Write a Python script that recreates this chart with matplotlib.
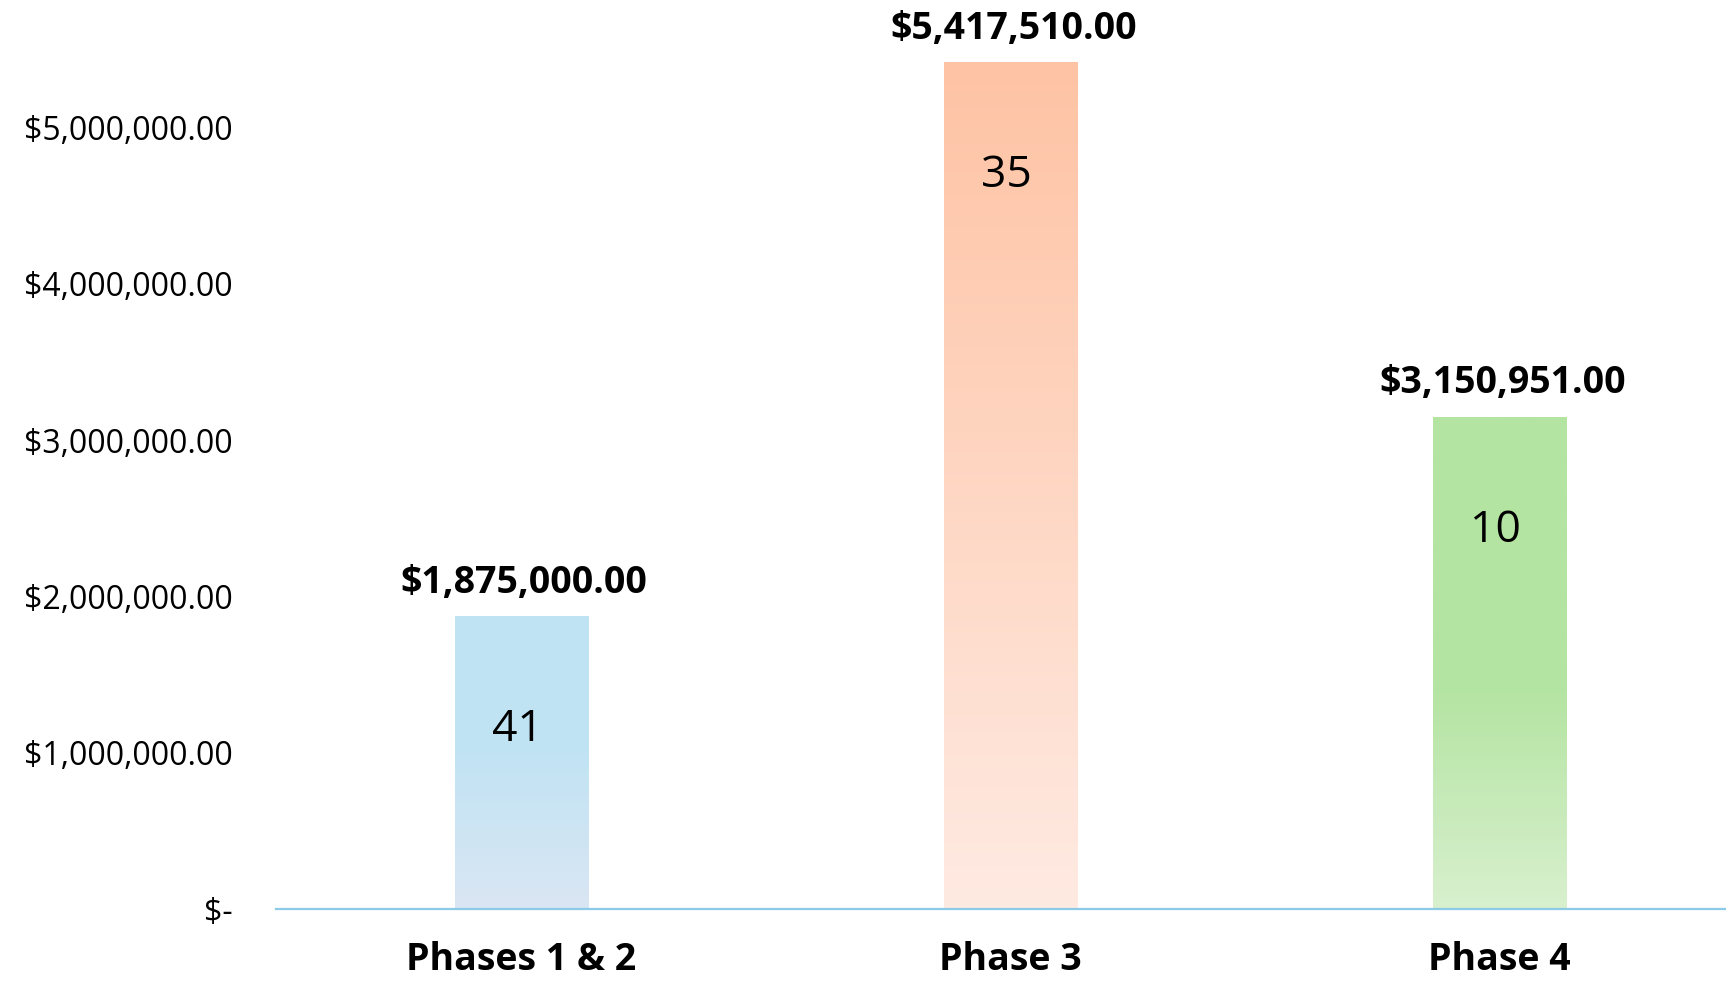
import matplotlib.pyplot as plt
import numpy as np
from matplotlib.colors import LinearSegmentedColormap
from matplotlib.ticker import FuncFormatter

# data
phases = ["Phases 1 & 2", "Phase 3", "Phase 4"]
amounts = [1875000.00, 5417510.00, 3150951.00]
counts = [41, 35, 10]
yticks = [0, 1000000, 2000000, 3000000, 4000000, 5000000]

# style: gradient top colour, bottom colour, where the fade starts (fraction from top)
top_colors = ["#C0E3F3", "#FEC3A4", "#B4E4A2"]
bottom_colors = ["#DAE6F4", "#FEEAE2", "#D8F0CE"]
fade_start = [0.45, 0.0, 0.55]

plt.rcParams['font.family'] = ['Open Sans', 'DejaVu Sans']

fig = plt.figure(figsize=(17.26, 9.83), dpi=100)
ax = fig.add_axes([276 / 1726, 74 / 983, 1 - 276 / 1726, 909 / 983])

x = np.arange(len(phases))
width = 0.272
bars = ax.bar(x, amounts, width=width, color="none", edgecolor="none", zorder=2)

for i, b in enumerate(bars):
    x0, h = b.get_x(), b.get_height()
    cmap = LinearSegmentedColormap.from_list(
        "g%d" % i, [(0, top_colors[i]), (max(fade_start[i], 0.001), top_colors[i]), (1, bottom_colors[i])])
    grad = np.linspace(0, 1, 256).reshape(-1, 1)
    im = ax.imshow(grad, cmap=cmap, aspect="auto", extent=[x0, x0 + width, 0, h],
                   origin="upper", zorder=1)
    im.set_clip_path(b)

    ax.annotate("${:,.2f}".format(amounts[i]), (x[i], h), xytext=(2, 24), textcoords="offset points",
                ha="center", va="center", fontsize=27, fontweight="bold", color="black")
    ax.annotate(str(counts[i]), (x[i], h), xytext=(-3, -82), textcoords="offset points",
                ha="center", va="center", fontsize=32, color="black")

ax.set_xlim((276 - 521.5) / 489, (1726 - 521.5) / 489)
ax.set_ylim(0, 5816000)
ax.set_yticks(yticks)
ax.yaxis.set_major_formatter(FuncFormatter(lambda v, p: "$-" if v == 0 else "${:,.2f}".format(v)))
ax.set_xticks(x)
ax.set_xticklabels(phases, fontsize=27, fontweight="bold")
ax.tick_params(axis="y", length=0, labelsize=23, pad=31)
ax.tick_params(axis="x", length=0, pad=23)

for s in ["top", "right", "left"]:
    ax.spines[s].set_visible(False)
ax.spines["bottom"].set_color("#8CCBE8")
ax.spines["bottom"].set_linewidth(1.6)
ax.spines["bottom"].set_zorder(3)

fig.savefig("out.png", dpi=100)
